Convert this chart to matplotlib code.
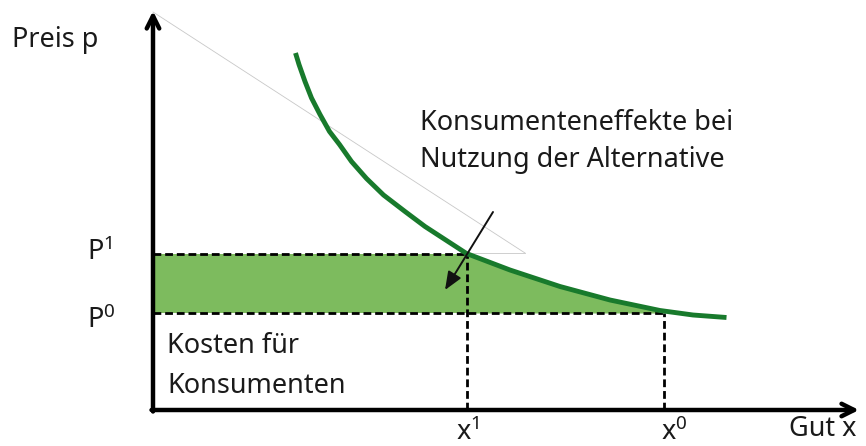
import matplotlib
matplotlib.use("Agg")
import matplotlib.pyplot as plt

plt.rcParams["font.family"] = ["Noto Sans", "DejaVu Sans"]

# demand curve (quantity, price)
curve_x = [2.85, 2.92, 3.04, 3.17, 3.34, 3.53, 3.73, 3.97, 4.27, 4.61, 5.04, 5.44,
           6.27, 7.14, 8.14, 9.14, 10.14, 10.80, 11.47]
curve_p = [7.14, 6.91, 6.57, 6.24, 5.91, 5.57, 5.31, 4.97, 4.63, 4.30, 3.97, 3.67,
           3.13, 2.80, 2.47, 2.20, 1.99, 1.90, 1.85]

# equilibrium quantities and prices
x1, x0 = 6.27, 10.22
p1, p0 = 3.13, 1.94

# faint tangent helper line
tangent_x = [0.0, 7.44]
tangent_p = [7.96, 3.14]

# annotation arrow (tail, head)
arrow_tail = (6.80, 3.96)
arrow_head = (5.84, 2.40)

# axis ends
x_max, p_max = 14.12, 7.98

dark_green = "#187a2c"
fill_green = "#7dbb5e"
fs = 19.5

fig = plt.figure(figsize=(8.66, 4.46), dpi=100)
ax = fig.add_axes([0, 0, 1, 1])
ax.set_xlim(-3.06, 14.26)
ax.set_ylim(-0.72, 8.2)
ax.axis("off")

# shaded rectangle between the two prices
ax.fill_between([0, x1], p0, p1, color=fill_green, lw=0, zorder=1)

# area under the curve between x1 and x0
seg_x = [x1] + [x for x in curve_x if x1 < x < x0] + [x0]
seg_p = [p1] + [p for x, p in zip(curve_x, curve_p) if x1 < x < x0] + [p0]
ax.fill_between(seg_x, p0, seg_p, color=fill_green, lw=0, zorder=1)

# tangent helper lines
ax.plot(tangent_x, tangent_p, color="#c8c8c8", lw=0.6, zorder=1)
ax.plot([x1, tangent_x[1]], [tangent_p[1], tangent_p[1]], color="#c8c8c8", lw=0.6, zorder=1)

# dashed guides
dash = dict(color="black", lw=2.0, ls=(0, (2.8, 1.4)), zorder=3)
ax.plot([0, x1], [p1, p1], **dash)
ax.plot([0, x0], [p0, p0], **dash)
ax.plot([x1, x1], [0, p1], **dash)
ax.plot([x0, x0], [0, p0], **dash)

# demand curve
ax.plot(curve_x, curve_p, color=dark_green, lw=3.5, solid_capstyle="butt",
        solid_joinstyle="round", zorder=4)

# axes with arrows
head = "->,head_length=0.9,head_width=0.45"
ax.annotate("", xy=(0, p_max), xytext=(0, -0.03),
            arrowprops=dict(arrowstyle=head, lw=3.2, color="black",
                            shrinkA=0, shrinkB=0), zorder=5)
ax.annotate("", xy=(x_max, 0), xytext=(-0.03, 0),
            arrowprops=dict(arrowstyle=head, lw=3.2, color="black",
                            shrinkA=0, shrinkB=0), zorder=5)

# annotation arrow
ax.annotate("", xy=arrow_head, xytext=arrow_tail,
            arrowprops=dict(arrowstyle="-|>,head_length=1.1,head_width=0.45",
                            lw=1.4, color="#111111", shrinkA=0, shrinkB=0), zorder=6)

# labels
txt = dict(fontsize=fs, color="#1a1a1a", va="baseline", ha="left")
ax.text(-2.82, 7.26, "Preis p", **txt)
ax.text(5.34, 5.60, "Konsumenteneffekte bei", **txt)
ax.text(5.34, 4.86, "Nutzung der Alternative", **txt)
ax.text(0.28, 1.14, "Kosten für", **txt)
ax.text(0.28, 0.34, "Konsumenten", **txt)
ax.text(-1.32, 3.00, r"$\mathregular{P^1}$", **txt)
ax.text(-1.32, 1.64, r"$\mathregular{P^0}$", **txt)
ax.text(6.06, -0.60, r"$\mathregular{x^1}$", **txt)
ax.text(10.16, -0.60, r"$\mathregular{x^0}$", **txt)
ax.text(12.72, -0.52, "Gut x", **txt)

fig.savefig("out.png", dpi=100)
